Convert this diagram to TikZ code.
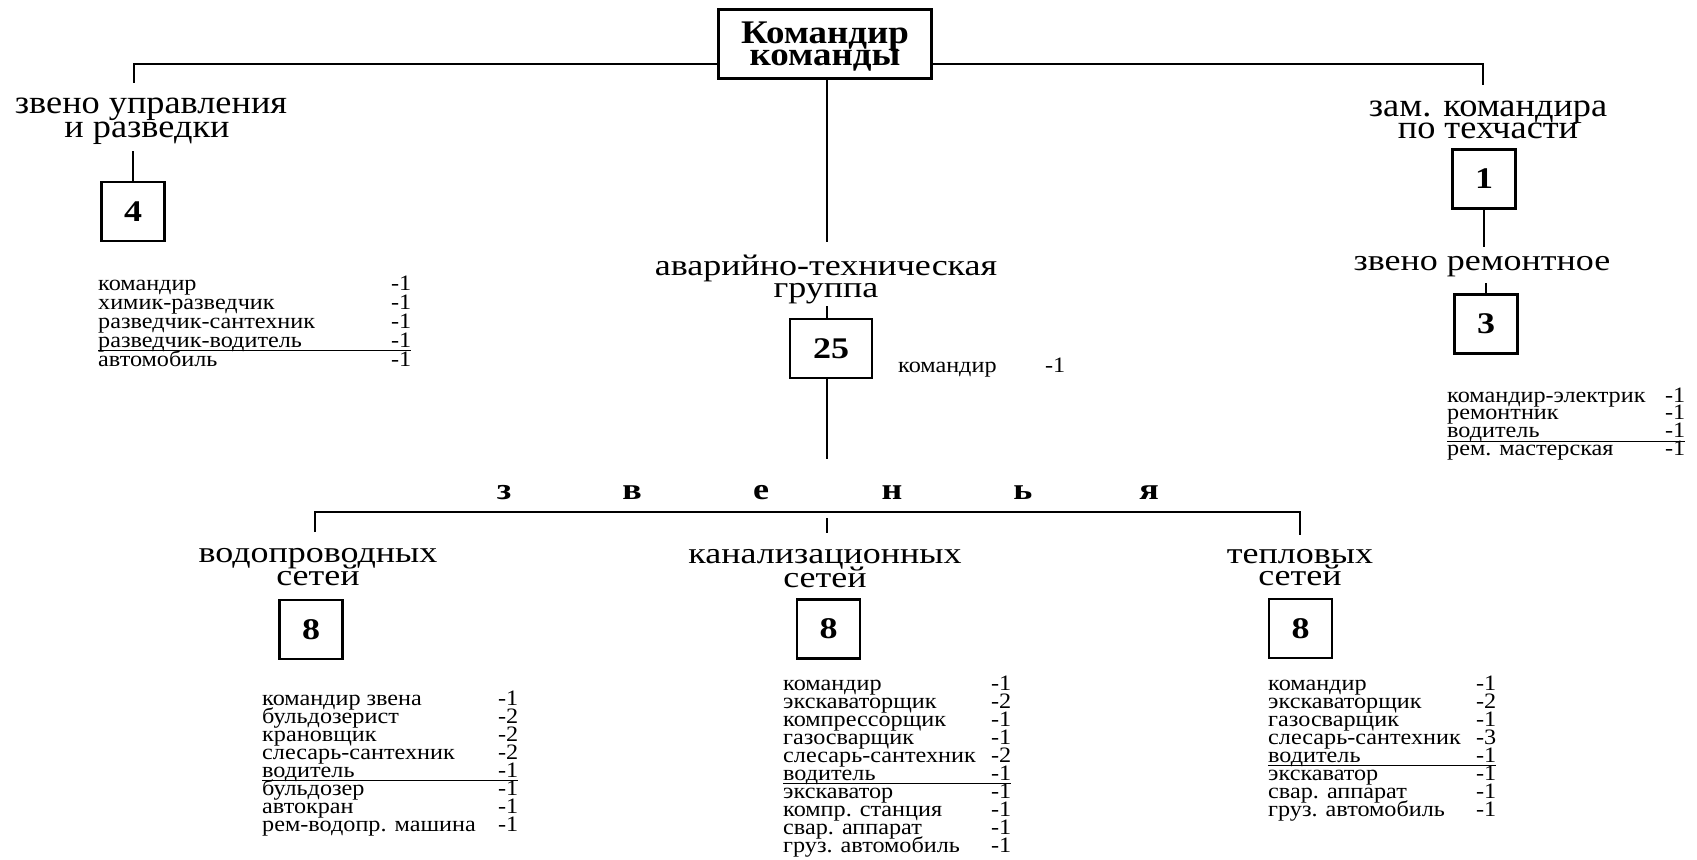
\documentclass[tikz,border=0pt]{standalone}
\usepackage{fontspec}
\setmainfont{Liberation Serif}
\newfontfamily\topfam[FakeStretch=1.1]{Liberation Serif}
\newfontfamily\labfam[FakeStretch=1.2]{Liberation Serif}
\newfontfamily\lstfam[FakeStretch=1.1]{Liberation Serif}
\newfontfamily\numfam[FakeStretch=1.2]{Liberation Serif}
\newfontfamily\tbfam[FakeStretch=1.12]{Liberation Serif}
\newlength\lw
\newcommand\rw[2]{\hbox to\lw{#1\hfil#2}}
\newcommand\urw[2]{\hbox to\lw{\rlap{\rule[-4bp]{\lw}{0.9bp}}#1\hfil#2}}
\newcommand\twol[3]{\vtop{\baselineskip=#1\lineskiplimit=-100bp\halign{\hfil##\hfil\cr#2\cr#3\cr}}}
\newcommand\lst[3]{\setlength\lw{#1}\vtop{\baselineskip=#2\lineskiplimit=-100bp #3}}
\tikzset{
  ln/.style={line width=2.5bp},
  boxn/.style={draw, line width=2.5bp, inner sep=0, minimum width=63bp, minimum height=59bp,
    font=\numfam\fontsize{30bp}{30bp}\selectfont\bfseries},
  topbox/.style={draw, line width=2.5bp, inner sep=0, minimum width=213bp, minimum height=69bp,
    font=\tbfam\fontsize{33bp}{22bp}\selectfont\bfseries},
  toplab/.style={inner sep=0, anchor=base, font=\topfam\fontsize{33bp}{24bp}\selectfont},
  lab/.style={inner sep=0, anchor=base, font=\labfam\fontsize{30bp}{23bp}\selectfont},
  lstn/.style={inner sep=0, anchor=base west, font=\lstfam\fontsize{22bp}{18bp}\selectfont},
  zv/.style={inner sep=0, anchor=base, font=\labfam\fontsize{30bp}{30bp}\selectfont\bfseries},
}
\begin{document}
\begin{tikzpicture}[x=1bp,y=-1bp]
\useasboundingbox (0,0) rectangle (1697,859);
\fill[white] (0,0) rectangle (1697,859);
% top
\node[topbox] (tb) at (825,44) {\raisebox{1bp}[0pt][0pt]{\twol{22bp}{Командир}{команды}}};
\node[toplab] (lzr) at (151,113) {\twol{24bp}{звено управления}{и разведки\kern8bp}};
\node[toplab] (lzam) at (1488,116) {\twol{22bp}{зам. командира}{по техчасти}};
\node[boxn] (b4) at (133,211.5) {4};
\node[boxn] (b1) at (1484,179) {1};
\node[lab] (lrem) at (1482,270) {звено ремонтное};
\node[boxn] (b3) at (1486,324) {3};
\node[lab] (lav) at (826,275) {\twol{22bp}{аварийно-техническая}{группа}};
\node[boxn, minimum width=82bp] (b25) at (831,348.5) {25};
\node[lstn] (k25) at (898,372) {\lst{167bp}{18bp}{\rw{командир}{-1}}};
% lists top
\node[lstn] (s4) at (98,290) {\lst{313bp}{19bp}{\rw{командир}{-1}\rw{химик-разведчик}{-1}\rw{разведчик-сантехник}{-1}\urw{разведчик-водитель}{-1}\rw{автомобиль}{-1}}};
\node[lstn] (s3) at (1447,402) {\lst{238bp}{17.7bp}{\rw{командир-электрик}{-1}\rw{ремонтник}{-1}\urw{водитель}{-1}\rw{рем. мастерская}{-1}}};
% zvenya
\foreach \l/\x [count=\i] in {з/504, в/632, е/761, н/892, ь/1023, я/1149}
  \node[zv] (zv\i) at (\x,499) {\l};
% bottom labels and boxes
\node[lab] (lvod) at (318,562) {\twol{23bp}{водопроводных}{сетей}};
\node[lab] (lkan) at (825,563) {\twol{24bp}{канализационных}{сетей}};
\node[lab] (ltep) at (1300,563) {\twol{22bp}{тепловых}{сетей}};
\node[boxn] (b8a) at (311,629.5) {8};
\node[boxn] (b8b) at (828.5,629) {8};
\node[boxn] (b8c) at (1300.5,628.5) {8};
% bottom lists
\node[lstn] (sv) at (262,705) {\lst{256bp}{18bp}{\rw{командир звена}{-1}\rw{бульдозерист}{-2}\rw{крановщик}{-2}\rw{слесарь-сантехник}{-2}\urw{водитель}{-1}\rw{бульдозер}{-1}\rw{автокран}{-1}\rw{рем-водопр. машина}{-1}}};
\node[lstn] (sk) at (783,690) {\lst{228bp}{18bp}{\rw{командир}{-1}\rw{экскаваторщик}{-2}\rw{компрессорщик}{-1}\rw{газосварщик}{-1}\rw{слесарь-сантехник}{-2}\urw{водитель}{-1}\rw{экскаватор}{-1}\rw{компр. станция}{-1}\rw{свар. аппарат}{-1}\rw{груз. автомобиль}{-1}}};
\node[lstn] (st) at (1268,690) {\lst{228bp}{18bp}{\rw{командир}{-1}\rw{экскаваторщик}{-2}\rw{газосварщик}{-1}\rw{слесарь-сантехник}{-3}\urw{водитель}{-1}\rw{экскаватор}{-1}\rw{свар. аппарат}{-1}\rw{груз. автомобиль}{-1}}};
% connectors
\coordinate (jL) at (134,64);
\coordinate (eL) at (134,83);
\coordinate (eR) at (1483,85);
\coordinate (eC) at (827,242);
\draw[ln] (tb.west |- jL) -| (eL);
\draw[ln] (tb.east |- jL) -| (eR);
\draw[ln] (tb.south -| eC) -- (eC);
\coordinate (sL) at (133,151);
\draw[ln] (sL) -- (b4.north);
\coordinate (eR2) at (1484,247);
\coordinate (sR2) at (1486,283);
\draw[ln] (b1.south) -- (b1.south |- eR2);
\draw[ln] (b3.north |- sR2) -- (b3.north);
\coordinate (sC) at (827,306);
\coordinate (eC2) at (827,459);
\draw[ln] (sC) -- (b25.north -| sC);
\draw[ln] (b25.south -| eC2) -- (eC2);
\coordinate (tL) at (315,532);
\coordinate (barR) at (1300,512);
\coordinate (tR) at (1300,535);
\draw[ln] (tL) |- (barR) -- (tR);
\coordinate (tM1) at (827,518);
\coordinate (tM2) at (827,533);
\draw[ln] (tM1) -- (tM2);
\end{tikzpicture}
\end{document}
